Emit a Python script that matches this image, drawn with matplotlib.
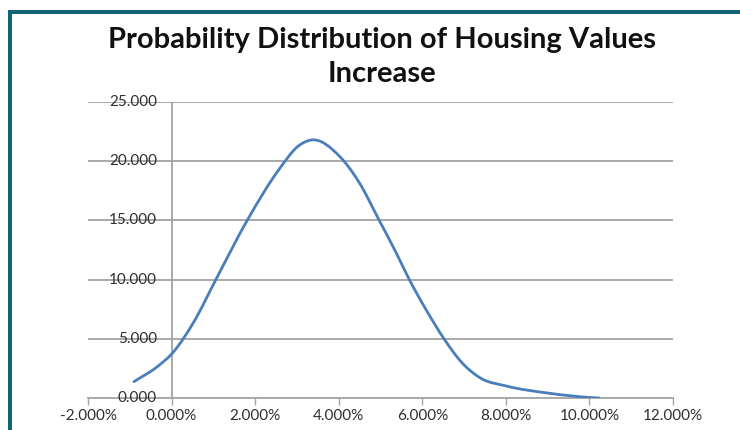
import matplotlib
matplotlib.use("Agg")
import matplotlib.pyplot as plt
from matplotlib.path import Path
from matplotlib.patches import PathPatch, Rectangle
from matplotlib.ticker import FuncFormatter, MultipleLocator
import numpy as np

# Data (x = housing value increase in %, y = density)
increase_pct = [-0.90, -0.34, 0.02, 0.54, 1.06, 1.81, 2.57, 3.04, 3.37, 4.01, 4.49,
                4.97, 5.37, 5.69, 6.09, 6.52, 6.96, 7.40, 8.00, 9.04, 10.07, 10.23]
density = [1.38, 2.65, 3.79, 6.47, 10.0, 15.0, 19.3, 21.3, 21.8, 20.45, 18.2,
           15.0, 12.3, 10.0, 7.46, 5.0, 2.94, 1.67, 1.02, 0.40, 0.03, 0.0]
title_text = "Probability Distribution of Housing Values\nIncrease"

xs = np.array(increase_pct) / 100.0
ys = np.array(density)

W, H = 740, 430
fig = plt.figure(figsize=(W / 100, H / 100), dpi=100)
fig.patch.set_facecolor("white")

ax = fig.add_axes([88 / W, 1 - 398 / H, (673 - 88) / W, (398 - 102) / H])
ax.set_xlim(-0.02, 0.12)
ax.set_ylim(0, 25)

# Smoothed line drawing (cubic Hermite through the points, as Bezier segments)
n = len(xs)
m = np.zeros(n)
for i in range(n):
    if i == 0:
        m[i] = (ys[1] - ys[0]) / (xs[1] - xs[0])
    elif i == n - 1:
        m[i] = (ys[-1] - ys[-2]) / (xs[-1] - xs[-2])
    else:
        h0 = xs[i] - xs[i - 1]
        h1 = xs[i + 1] - xs[i]
        d0 = (ys[i] - ys[i - 1]) / h0
        d1 = (ys[i + 1] - ys[i]) / h1
        m[i] = (h1 * d0 + h0 * d1) / (h0 + h1)
verts = [(xs[0], ys[0])]
codes = [Path.MOVETO]
for i in range(n - 1):
    h = xs[i + 1] - xs[i]
    verts += [(xs[i] + h / 3, ys[i] + m[i] * h / 3),
              (xs[i + 1] - h / 3, ys[i + 1] - m[i + 1] * h / 3),
              (xs[i + 1], ys[i + 1])]
    codes += [Path.CURVE4] * 3
ax.add_patch(PathPatch(Path(verts, codes), facecolor="none", edgecolor="#4a7ebb",
                       lw=2.0, capstyle="round", joinstyle="round", zorder=5))

# Grid lines
grid_color = "#a3a3a3"
ax.xaxis.set_major_locator(MultipleLocator(0.02))
for yv in np.arange(5, 26, 5):
    ax.axhline(yv, color=grid_color, lw=1.3, zorder=1)

for s in ["top", "right", "left"]:
    ax.spines[s].set_visible(False)
ax.spines["bottom"].set_color(grid_color)
ax.spines["bottom"].set_linewidth(1.3)
ax.axvline(0, color=grid_color, lw=1.3, zorder=2)

font = "Lato"
label_color = "#2e2e2e"
ax.xaxis.set_major_formatter(FuncFormatter(lambda v, p: f"{v * 100:.3f}%"))
ax.tick_params(axis="x", direction="out", length=5, width=1.0, color=grid_color,
               labelsize=11, labelcolor=label_color, pad=3)
for lab in ax.get_xticklabels():
    lab.set_fontfamily(font)

ax.set_yticks([])
for yv in np.arange(0, 26, 5):
    ax.text(-0.0035, yv, f"{yv:.3f}", ha="right", va="center", fontsize=11,
            color=label_color, family=font, zorder=3)

fig.text(382 / W, 1 - 57 / H, title_text, ha="center", va="center",
         fontsize=21, fontweight="bold", family="Lato", color="#111111",
         linespacing=1.35)

# Teal frame on top and left
teal = "#116377"
fig.patches.append(Rectangle((8 / W, 0), 4 / W, 1 - 10 / H, transform=fig.transFigure,
                             facecolor=teal, edgecolor="none"))
fig.patches.append(Rectangle((8 / W, 1 - 14 / H), 1 - 8 / W, 4 / H, transform=fig.transFigure,
                             facecolor=teal, edgecolor="none"))

fig.savefig("out.png", dpi=100)
